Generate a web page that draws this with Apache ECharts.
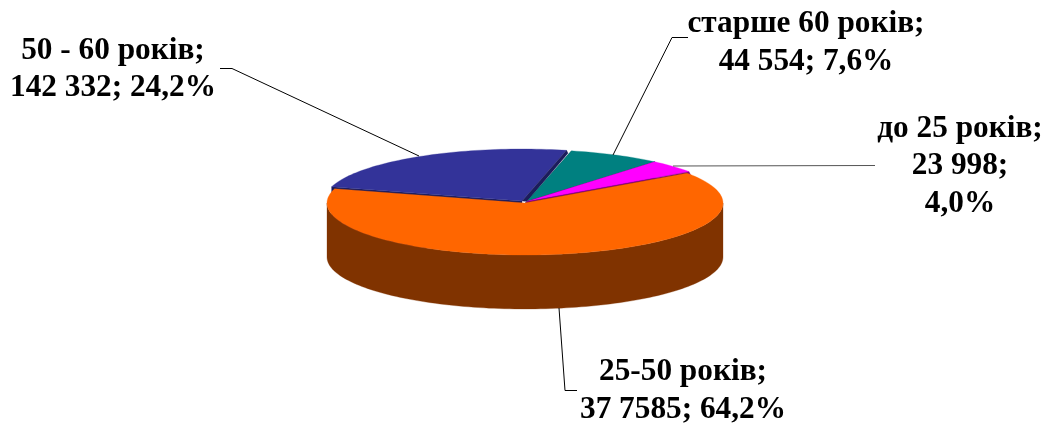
<!DOCTYPE html>
<html>
<head>
<meta charset="utf-8">
<script src="https://cdn.jsdelivr.net/npm/echarts@6/dist/echarts.min.js"></script>
<style>html,body{margin:0;padding:0;background:#fff}#c{width:1050px;height:428px}</style>
</head>
<body>
<div id="c"></div>
<script>
// Data, in clockwise drawing order (back slices first, the big front slice last)
const categories = ['50 - 60 років', 'старше 60 років', 'до 25 років', '25-50 років'];
const values = [142332, 44554, 23998, 377585];
const valueLabels = ['142 332', '44 554', '23 998', '37 7585'];
const percentLabels = ['24,2%', '7,6%', '4,0%', '64,2%'];

// Styling and layout
const topColors = ['#333399', '#008080', '#FF00FF', '#FF6600'];
const sideColors = ['#1C1C5C', '#004040', '#800080', '#803300'];
const centers = [[522, 201], [527, 201.5], [527, 201.5], [525, 203]];
const RX = 198, RY = 52, DEPTH = 54;
const BOUNDARY_DEG = 13;              // where the blue slice ends, clockwise from the top
const labelPos = [[113, 69.5], [806, 43], [960, 166], [683, 391]];
const labelStacked = [false, false, true, false];
const leaders = [
  [[220, 68.5], [232, 68.5], [419, 156]],
  [[688, 37.5], [672, 37.5], [613, 155]],
  [[875, 165.5], [673, 166]],
  [[577, 390.5], [565, 390.5], [559, 308]]
];
const leaderColors = ['#000', '#000', '#555', '#000'];
const FONT = 'bold 31.3px "Liberation Serif", "Times New Roman", serif';

const total = values.reduce((a, b) => a + b, 0);
const firstDeg = BOUNDARY_DEG - values[0] / total * 360;
const angleAt = i => firstDeg + values.slice(0, i).reduce((a, b) => a + b, 0) / total * 360;
const rim = (c, deg, dy = 0) => {
  const r = deg * Math.PI / 180;
  return [c[0] + RX * Math.sin(r), c[1] - RY * Math.cos(r) + dy];
};
const arc = (c, a, b, dy = 0) => {
  const pts = [], n = Math.max(2, Math.ceil(Math.abs(b - a) / 1.5));
  for (let k = 0; k <= n; k++) pts.push(rim(c, a + (b - a) * k / n, dy));
  return pts;
};
const poly = (points, fill) => ({ type: 'polygon', shape: { points }, style: { fill, stroke: fill, lineWidth: 0.3 } });

function renderItem(params) {
  const i = params.dataIndex, c = centers[i];
  const a = angleAt(i), b = angleAt(i + 1);
  const children = [];
  // start cut face, extruded downward
  const s = rim(c, a);
  children.push(poly([c, s, [s[0], s[1] + DEPTH], [c[0], c[1] + DEPTH]], sideColors[i]));
  // front outer wall
  const fa = Math.max(a, 90), fb = Math.min(b, 270);
  if (fb > fa) children.push(poly(arc(c, fa, fb).concat(arc(c, fb, fa, DEPTH)), sideColors[i]));
  // top surface
  children.push(poly([c].concat(arc(c, a, b)), topColors[i]));
  // end cut face, narrowing to the neighbour's apex
  const next = centers[i + 1];
  if (next) {
    const e = rim(c, b);
    children.push(poly([e, c, next, [e[0] + 1.5, e[1] + 3]], sideColors[i]));
  }
  // leader line
  children.push({ type: 'polyline', shape: { points: leaders[i] }, style: { stroke: leaderColors[i], lineWidth: 1, fill: null } });
  // label
  const sep = labelStacked[i] ? ';\n' : '; ';
  children.push({
    type: 'text',
    x: labelPos[i][0], y: labelPos[i][1],
    style: {
      text: categories[i] + ';\n' + valueLabels[i] + sep + percentLabels[i],
      font: FONT, fill: '#000', align: 'center', verticalAlign: 'middle', lineHeight: 37.5
    }
  });
  return { type: 'group', children };
}

const chart = echarts.init(document.getElementById('c'), null, { renderer: 'canvas' });
chart.setOption({
  animation: false,
  backgroundColor: '#fff',
  series: [{
    type: 'custom',
    coordinateSystem: 'none',
    silent: true,
    renderItem,
    data: values.map(v => [v])
  }]
});
</script>
</body>
</html>
